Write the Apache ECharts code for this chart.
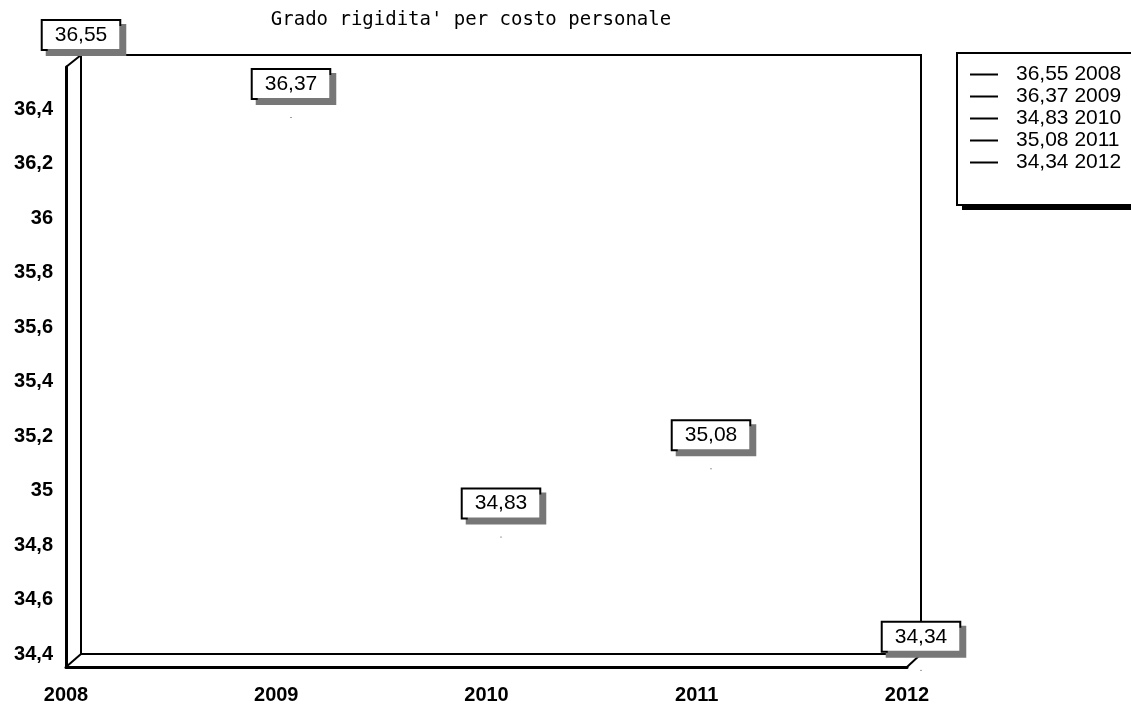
<!DOCTYPE html>
<html>
<head>
<meta charset="utf-8">
<script src="https://cdn.jsdelivr.net/npm/echarts@6/dist/echarts.min.js"></script>
<style>
  html, body { margin: 0; padding: 0; background: #fff; }
  #main { width: 1131px; height: 708px; }
</style>
</head>
<body>
<div id="main"></div>
<script>
var years = ['2008', '2009', '2010', '2011', '2012']
var values = [36.55, 36.37, 34.83, 35.08, 34.34]
var legendNames = ['36,55 2008', '36,37 2009', '34,83 2010', '35,08 2011', '34,34 2012']
var yMin = 34.4
var yMax = 36.6
var yStep = 0.2

// back wall and front wall of the fake 3d box
var back = { left: 81, top: 55, width: 840, height: 599 }
var front = { left: 66, top: 67, width: 841, height: 600 }
// legend box, its black shadow is drawn apart
var legBox = { left: 957, top: 53, height: 150 }

function comma(v) {
  return String(v).replace('.', ',')
}

var chart = echarts.init(document.getElementById('main'))

var series = []
for (var i = 0; i < years.length; i++) {
  series.push({
    name: legendNames[i],
    type: 'line',
    xAxisIndex: 0,
    yAxisIndex: 0,
    clip: false,
    symbol: 'circle',
    symbolSize: 1,
    color: '#000',
    data: [[years[i], values[i]]],
    label: {
      show: true,
      position: 'top',
      distance: 19,
      formatter: function (p) { return comma(p.value[1]) },
      fontFamily: 'Liberation Sans',
      fontSize: 21,
      lineHeight: 20,
      color: '#000',
      backgroundColor: '#fff',
      borderColor: '#000',
      borderWidth: 2,
      padding: [4, 12, 4, 12],
      shadowColor: '#777',
      shadowOffsetX: 5,
      shadowOffsetY: 5,
      shadowBlur: 0
    }
  })
}

var options = {
  animation: false,
  backgroundColor: '#fff',
  title: {
    text: "Grado rigidita' per costo personale",
    left: 466,
    textAlign: 'center',
    top: 6,
    textStyle: {
      fontFamily: 'DejaVu Sans Mono',
      fontSize: 19,
      fontWeight: 'normal',
      color: '#000'
    }
  },
  legend: {
    orient: 'vertical',
    left: legBox.left,
    top: legBox.top,
    padding: [11, 40, 32, 13],
    itemGap: 1,
    itemWidth: 28,
    itemHeight: 2,
    icon: 'rect',
    backgroundColor: '#fff',
    borderColor: '#000',
    borderWidth: 2,
    textStyle: {
      fontFamily: 'Liberation Sans',
      fontSize: 21,
      color: '#000',
      padding: [0, 0, 0, 13]
    },
    data: legendNames
  },
  grid: [{
    left: back.left,
    top: back.top,
    width: back.width,
    height: back.height,
    show: true,
    borderColor: '#000',
    borderWidth: 2,
    backgroundColor: 'transparent'
  }, {
    left: front.left,
    top: front.top,
    width: front.width,
    height: front.height
  }],
  xAxis: [{
    gridIndex: 0,
    type: 'category',
    boundaryGap: false,
    data: years,
    axisLine: { show: false },
    axisTick: { show: false },
    axisLabel: { show: false },
    splitLine: { show: false }
  }, {
    gridIndex: 1,
    type: 'category',
    boundaryGap: false,
    data: years,
    axisLine: { show: true, lineStyle: { color: '#000', width: 3 } },
    axisTick: { show: false },
    axisLabel: {
      margin: 18,
      fontFamily: 'Liberation Sans',
      fontSize: 20,
      fontWeight: 'bold',
      color: '#000'
    },
    splitLine: { show: false }
  }],
  yAxis: [{
    gridIndex: 0,
    type: 'value',
    min: yMin,
    max: yMax,
    interval: yStep,
    axisLine: { show: false },
    axisTick: { show: false },
    axisLabel: {
      margin: 28,
      showMaxLabel: false,
      formatter: function (v) { return comma(Math.round(v * 10) / 10) },
      fontFamily: 'Liberation Sans',
      fontSize: 20,
      fontWeight: 'bold',
      color: '#000'
    },
    splitLine: { show: false }
  }, {
    gridIndex: 1,
    type: 'value',
    min: yMin,
    max: yMax,
    interval: yStep,
    axisLine: { show: true, lineStyle: { color: '#000', width: 3 } },
    axisTick: { show: false },
    axisLabel: { show: false },
    splitLine: { show: false }
  }],
  graphic: [
    // diagonal edges joining the back wall to the front wall
    { type: 'line', shape: { x1: back.left, y1: back.top, x2: front.left, y2: front.top }, style: { stroke: '#000', lineWidth: 2 } },
    { type: 'line', shape: { x1: back.left, y1: back.top + back.height, x2: front.left, y2: front.top + front.height }, style: { stroke: '#000', lineWidth: 2 } },
    { type: 'line', shape: { x1: back.left + back.width, y1: back.top + back.height, x2: front.left + front.width, y2: front.top + front.height }, style: { stroke: '#000', lineWidth: 2 } },
    // legend shadow
    { type: 'rect', z: 0, shape: { x: legBox.left + 5, y: legBox.top + 7, width: 300, height: legBox.height }, style: { fill: '#000' } }
  ],
  series: series
}

chart.setOption(options)
</script>
</body>
</html>
